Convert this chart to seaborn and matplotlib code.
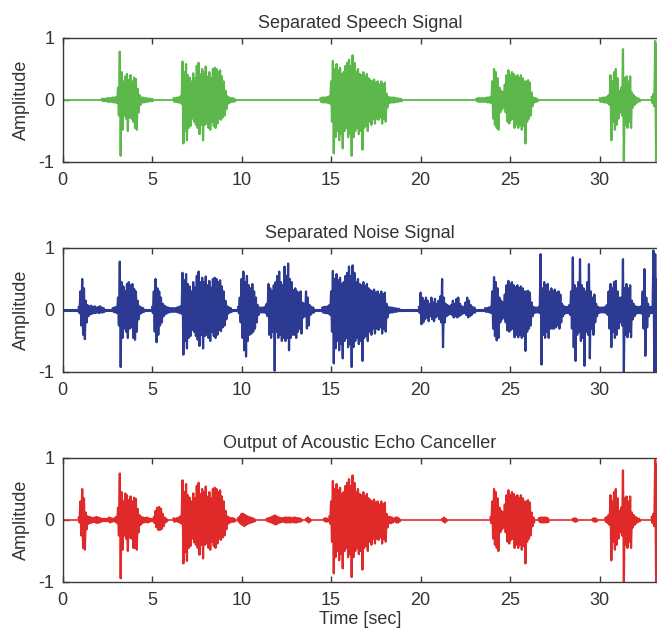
import matplotlib
matplotlib.use("Agg")
import matplotlib.pyplot as plt
import seaborn as sns
import pandas as pd

# ---------------- data (peak envelope samples, 0.1 s apart; (positive, negative)) -------------
sample_step = 0.1
time_max = 33.2
xticks = [0, 5, 10, 15, 20, 25, 30]
yticks = [-1, 0, 1]

titles = ["Separated Speech Signal", "Separated Noise Signal", "Output of Acoustic Echo Canceller"]
colors = ["#5cb84b", "#2c3a92", "#e02a2a"]

speech_starts = [2.2, 6.2, 14.4, 23.1, 30.0, 32.9]
speech_peaks = [
    [(0.02, -0.02), (0.02, -0.02), (0.02, -0.02), (0.03, -0.03), (0.03, -0.03), (0.03, -0.03), (0.04, -0.04), (0.04, -0.04), (0.05, -0.05),
     (0.20, -0.25), (0.78, -0.90), (0.45, -0.48), (0.30, -0.25), (0.38, -0.30), (0.42, -0.50), (0.32, -0.28), (0.40, -0.30), (0.30, -0.35), (0.36, -0.45), (0.34, -0.48), (0.18, -0.20), (0.08, -0.08),
     (0.04, -0.04), (0.04, -0.04), (0.03, -0.03), (0.03, -0.03), (0.02, -0.02), (0.02, -0.02), (0.02, -0.02)],
    [(0.03, -0.03), (0.03, -0.03), (0.04, -0.04), (0.04, -0.04), (0.06, -0.06),
     (0.62, -0.70), (0.45, -0.50), (0.58, -0.65), (0.40, -0.45), (0.36, -0.42), (0.30, -0.30), (0.43, -0.35), (0.35, -0.40), (0.55, -0.45), (0.60, -0.55),
     (0.42, -0.40), (0.50, -0.65), (0.45, -0.40), (0.54, -0.38), (0.38, -0.45), (0.45, -0.48), (0.35, -0.35), (0.50, -0.42), (0.52, -0.45), (0.50, -0.38),
     (0.45, -0.30), (0.48, -0.32), (0.38, -0.28), (0.30, -0.25), (0.15, -0.15),
     (0.06, -0.06), (0.04, -0.04), (0.03, -0.03), (0.03, -0.03), (0.02, -0.02)],
    [(0.03, -0.03), (0.04, -0.04), (0.04, -0.04), (0.04, -0.04), (0.05, -0.05), (0.06, -0.06),
     (0.30, -0.35), (0.63, -0.86), (0.50, -0.60), (0.58, -0.50), (0.48, -0.65), (0.52, -0.55), (0.42, -0.78), (0.45, -0.50), (0.55, -0.45), (0.60, -0.60),
     (0.65, -0.55), (0.55, -0.90), (0.72, -0.60), (0.60, -0.50), (0.45, -0.45), (0.50, -0.55), (0.42, -0.50), (0.40, -0.80), (0.45, -0.45), (0.38, -0.42),
     (0.42, -0.50), (0.35, -0.35), (0.32, -0.40), (0.30, -0.30), (0.33, -0.38), (0.28, -0.30), (0.30, -0.32), (0.25, -0.28), (0.30, -0.38), (0.25, -0.30),
     (0.28, -0.35), (0.10, -0.12), (0.05, -0.05), (0.04, -0.04), (0.04, -0.04), (0.04, -0.04), (0.03, -0.03), (0.03, -0.03), (0.02, -0.02), (0.02, -0.02)],
    [(0.02, -0.02), (0.03, -0.03), (0.03, -0.03), (0.03, -0.03), (0.03, -0.03), (0.03, -0.03), (0.04, -0.04), (0.04, -0.04), (0.05, -0.05),
     (0.30, -0.30), (0.50, -0.40), (0.45, -0.45), (0.35, -0.48), (0.20, -0.20), (0.15, -0.15), (0.12, -0.12), (0.25, -0.20), (0.40, -0.35), (0.48, -0.38),
     (0.40, -0.32), (0.45, -0.30), (0.42, -0.45), (0.38, -0.40), (0.40, -0.45), (0.35, -0.40), (0.40, -0.48), (0.35, -0.42), (0.30, -0.70), (0.30, -0.35),
     (0.32, -0.30), (0.28, -0.25), (0.12, -0.10), (0.04, -0.04), (0.03, -0.03), (0.02, -0.02)],
    [(0.03, -0.03), (0.03, -0.03), (0.04, -0.04), (0.04, -0.04), (0.05, -0.05), (0.08, -0.08),
     (0.40, -0.65), (0.30, -0.35), (0.45, -0.48), (0.50, -0.40), (0.35, -0.30), (0.15, -0.20), (0.20, -0.25), (0.82, -1.00), (0.35, -0.40), (0.38, -0.45), (0.30, -0.35), (0.38, -0.45),
     (0.12, -0.12), (0.08, -0.08), (0.05, -0.05), (0.03, -0.03), (0.02, -0.02)],
    [(0.05, -0.05), (0.10, -0.10), (0.95, -1.00), (0.90, -1.00)],
]

noise_starts = [0.9, 2.8, 5.0, 9.8, 14.5, 19.9, 23.6, 26.5]
noise_peaks = [
    [(0.05, -0.05), (0.30, -0.25), (0.50, -0.40), (0.35, -0.47), (0.15, -0.20), (0.08, -0.10), (0.06, -0.07), (0.07, -0.06), (0.05, -0.05), (0.06, -0.05),
     (0.04, -0.04), (0.05, -0.05), (0.06, -0.04), (0.04, -0.04), (0.03, -0.03)],
    [(0.03, -0.03), (0.04, -0.04), (0.05, -0.05), (0.20, -0.25), (0.78, -0.92), (0.45, -0.45), (0.38, -0.30), (0.30, -0.35), (0.42, -0.45), (0.45, -0.30),
     (0.40, -0.28), (0.42, -0.45), (0.34, -0.48), (0.30, -0.35), (0.15, -0.15), (0.06, -0.06), (0.04, -0.04), (0.03, -0.03)],
    [(0.05, -0.05), (0.30, -0.35), (0.50, -0.52), (0.35, -0.40), (0.30, -0.25), (0.20, -0.20), (0.10, -0.10), (0.07, -0.07), (0.05, -0.05), (0.04, -0.04),
     (0.03, -0.03), (0.03, -0.03), (0.03, -0.03), (0.03, -0.03), (0.04, -0.04), (0.05, -0.05), (0.06, -0.06),
     (0.60, -0.72), (0.48, -0.50), (0.58, -0.62), (0.42, -0.45), (0.38, -0.42), (0.30, -0.32), (0.45, -0.35), (0.36, -0.42), (0.55, -0.48), (0.62, -0.58),
     (0.45, -0.40), (0.52, -0.62), (0.45, -0.42), (0.54, -0.40), (0.40, -0.45), (0.47, -0.50), (0.36, -0.35), (0.50, -0.42), (0.52, -0.45), (0.50, -0.40),
     (0.45, -0.32), (0.48, -0.34), (0.38, -0.28), (0.30, -0.25), (0.15, -0.15),
     (0.06, -0.06), (0.04, -0.04), (0.03, -0.03)],
    [(0.05, -0.05), (0.20, -0.20), (0.50, -0.45), (0.62, -0.65), (0.45, -0.75), (0.55, -0.50), (0.40, -0.40), (0.35, -0.38), (0.42, -0.35), (0.30, -0.30), (0.20, -0.20), (0.08, -0.08),
     (0.04, -0.04), (0.04, -0.04), (0.04, -0.04), (0.05, -0.05), (0.10, -0.10),
     (0.42, -0.40), (0.35, -0.45), (0.30, -0.35), (0.40, -0.98), (0.45, -0.35), (0.55, -0.45), (0.62, -0.40), (0.45, -0.50), (0.40, -0.45), (0.70, -0.50),
     (0.55, -0.45), (0.75, -0.65), (0.50, -0.45), (0.45, -0.40), (0.32, -0.40), (0.35, -0.45), (0.30, -0.35), (0.28, -0.30), (0.30, -0.38), (0.12, -0.12),
     (0.10, -0.10), (0.30, -0.30), (0.20, -0.25), (0.08, -0.08), (0.05, -0.05), (0.04, -0.04)],
    [(0.04, -0.04), (0.05, -0.05), (0.05, -0.05), (0.06, -0.06), (0.08, -0.08),
     (0.30, -0.35), (0.63, -0.86), (0.50, -0.62), (0.58, -0.50), (0.48, -0.65), (0.52, -0.55), (0.42, -0.78), (0.45, -0.50), (0.55, -0.45), (0.60, -0.60),
     (0.70, -0.55), (0.55, -0.92), (0.72, -0.60), (0.60, -0.50), (0.45, -0.45), (0.50, -0.55), (0.42, -0.50), (0.40, -0.82), (0.45, -0.45), (0.38, -0.42),
     (0.42, -0.50), (0.35, -0.35), (0.32, -0.40), (0.30, -0.30), (0.33, -0.38), (0.28, -0.30), (0.30, -0.32), (0.25, -0.28), (0.30, -0.38), (0.25, -0.30),
     (0.28, -0.35), (0.10, -0.12), (0.05, -0.05), (0.04, -0.04), (0.04, -0.04), (0.03, -0.03), (0.03, -0.03), (0.02, -0.02), (0.02, -0.02)],
    [(0.05, -0.05), (0.28, -0.23), (0.20, -0.20), (0.15, -0.15), (0.20, -0.12), (0.15, -0.18), (0.10, -0.10), (0.20, -0.15), (0.12, -0.18), (0.18, -0.12), (0.10, -0.10),
     (0.15, -0.15), (0.22, -0.20), (0.50, -0.60), (0.20, -0.20), (0.10, -0.10), (0.08, -0.08), (0.06, -0.06), (0.08, -0.08), (0.15, -0.12), (0.10, -0.10),
     (0.18, -0.12), (0.20, -0.10), (0.10, -0.08), (0.06, -0.06), (0.05, -0.05), (0.12, -0.08), (0.20, -0.12), (0.15, -0.10), (0.08, -0.08), (0.05, -0.05), (0.04, -0.04)],
    [(0.03, -0.03), (0.03, -0.03), (0.04, -0.04), (0.05, -0.05),
     (0.30, -0.30), (0.53, -0.42), (0.45, -0.49), (0.35, -0.45), (0.20, -0.20), (0.15, -0.15), (0.12, -0.12), (0.25, -0.20), (0.40, -0.33), (0.47, -0.35),
     (0.42, -0.32), (0.45, -0.30), (0.40, -0.44), (0.37, -0.40), (0.40, -0.44), (0.35, -0.40), (0.38, -0.45), (0.35, -0.42), (0.30, -0.66), (0.30, -0.35),
     (0.31, -0.30), (0.28, -0.25), (0.12, -0.10), (0.05, -0.05), (0.04, -0.04)],
    [(0.04, -0.04), (0.05, -0.05), (0.90, -0.88), (0.35, -0.40), (0.45, -0.45), (0.40, -0.35), (0.42, -0.45), (0.30, -0.30), (0.35, -0.30), (0.30, -0.30),
     (0.33, -0.28), (0.28, -0.25), (0.30, -0.30), (0.25, -0.20), (0.10, -0.10), (0.06, -0.06), (0.05, -0.05), (0.05, -0.05), (0.08, -0.08), (0.30, -0.30),
     (0.85, -0.60), (0.40, -0.82), (0.35, -0.40), (0.45, -0.35), (0.82, -0.50), (0.40, -0.45), (0.35, -0.90), (0.30, -0.35), (0.45, -0.40), (0.74, -0.78),
     (0.30, -0.30), (0.20, -0.40), (0.25, -0.20), (0.10, -0.10), (0.05, -0.05), (0.04, -0.04), (0.04, -0.04), (0.04, -0.04), (0.05, -0.05), (0.08, -0.08),
     (0.30, -0.30), (0.42, -0.60), (0.35, -0.35), (0.45, -0.45), (0.47, -0.40), (0.30, -0.30), (0.20, -0.20), (0.20, -0.25), (0.82, -1.00), (0.35, -0.40),
     (0.42, -0.44), (0.35, -0.35), (0.40, -0.44), (0.15, -0.15), (0.10, -0.10), (0.06, -0.06), (0.05, -0.05), (0.05, -0.05), (0.06, -0.06), (0.30, -0.30),
     (0.66, -0.74), (0.20, -0.28), (0.10, -0.10), (0.05, -0.05), (0.05, -0.05), (0.96, -1.00), (0.90, -1.00), (0.50, -0.60)],
]

aec_starts = [0.9, 2.9, 5.1, 6.2, 9.8, 11.4, 13.6, 14.6, 14.9, 21.2, 23.9, 26.6, 28.5, 29.6, 30.3, 32.9]
aec_peaks = [
    [(0.04, -0.04), (0.30, -0.25), (0.50, -0.45), (0.35, -0.48), (0.12, -0.15), (0.06, -0.06), (0.05, -0.05), (0.04, -0.04), (0.03, -0.03), (0.04, -0.04),
     (0.05, -0.05), (0.04, -0.04), (0.03, -0.03), (0.02, -0.02), (0.02, -0.02), (0.02, -0.02), (0.02, -0.02), (0.04, -0.04), (0.03, -0.03), (0.02, -0.02)],
    [(0.03, -0.03), (0.05, -0.05), (0.20, -0.25), (0.75, -0.94), (0.45, -0.48), (0.30, -0.25), (0.43, -0.30), (0.40, -0.50), (0.32, -0.28), (0.38, -0.30),
     (0.30, -0.45), (0.36, -0.45), (0.34, -0.48), (0.18, -0.20), (0.08, -0.08), (0.05, -0.05), (0.04, -0.04), (0.03, -0.03), (0.04, -0.04), (0.03, -0.03),
     (0.02, -0.02), (0.02, -0.02)],
    [(0.05, -0.05), (0.15, -0.12), (0.20, -0.16), (0.21, -0.16), (0.18, -0.14), (0.10, -0.10), (0.04, -0.04), (0.02, -0.02)],
    [(0.03, -0.03), (0.02, -0.02), (0.03, -0.03), (0.04, -0.04), (0.06, -0.06),
     (0.64, -0.70), (0.45, -0.52), (0.58, -0.66), (0.40, -0.45), (0.36, -0.42), (0.30, -0.30), (0.43, -0.36), (0.35, -0.40), (0.55, -0.45), (0.60, -0.56),
     (0.42, -0.40), (0.50, -0.62), (0.45, -0.40), (0.54, -0.38), (0.38, -0.45), (0.45, -0.48), (0.35, -0.35), (0.50, -0.42), (0.52, -0.45), (0.50, -0.38),
     (0.45, -0.30), (0.48, -0.32), (0.38, -0.28), (0.30, -0.25), (0.15, -0.15),
     (0.06, -0.06), (0.04, -0.04), (0.03, -0.03), (0.03, -0.03), (0.02, -0.02)],
    [(0.03, -0.03), (0.06, -0.06), (0.10, -0.08), (0.10, -0.10), (0.08, -0.08), (0.06, -0.06), (0.05, -0.05), (0.04, -0.04), (0.03, -0.03), (0.02, -0.02)],
    [(0.02, -0.02), (0.03, -0.03), (0.04, -0.04), (0.05, -0.05), (0.07, -0.07), (0.07, -0.07), (0.05, -0.05), (0.04, -0.04), (0.03, -0.03), (0.03, -0.03),
     (0.04, -0.04), (0.04, -0.04), (0.04, -0.04), (0.04, -0.04), (0.03, -0.03), (0.04, -0.04), (0.04, -0.04), (0.03, -0.03), (0.03, -0.03), (0.02, -0.02)],
    [(0.02, -0.02), (0.04, -0.04), (0.02, -0.02)],
    [(0.02, -0.02), (0.03, -0.03), (0.02, -0.02)],
    [(0.06, -0.06),
     (0.30, -0.35), (0.63, -0.86), (0.50, -0.60), (0.58, -0.50), (0.48, -0.65), (0.52, -0.55), (0.42, -0.78), (0.45, -0.50), (0.55, -0.45), (0.60, -0.60),
     (0.66, -0.55), (0.55, -0.92), (0.72, -0.60), (0.60, -0.50), (0.45, -0.45), (0.50, -0.55), (0.42, -0.50), (0.40, -0.80), (0.45, -0.45), (0.38, -0.42),
     (0.42, -0.50), (0.35, -0.35), (0.32, -0.40), (0.30, -0.30), (0.33, -0.38), (0.28, -0.30), (0.30, -0.32), (0.25, -0.28), (0.30, -0.38), (0.25, -0.30),
     (0.28, -0.35), (0.10, -0.12), (0.05, -0.05), (0.05, -0.05), (0.04, -0.04), (0.02, -0.02), (0.04, -0.04), (0.04, -0.04), (0.02, -0.02)],
    [(0.02, -0.02), (0.04, -0.04), (0.02, -0.02)],
    [(0.05, -0.05), (0.30, -0.30), (0.50, -0.40), (0.45, -0.45), (0.35, -0.50), (0.20, -0.20), (0.15, -0.15), (0.12, -0.12), (0.25, -0.20), (0.40, -0.35), (0.48, -0.38),
     (0.40, -0.32), (0.45, -0.30), (0.42, -0.45), (0.38, -0.40), (0.40, -0.45), (0.35, -0.40), (0.40, -0.48), (0.35, -0.42), (0.30, -0.70), (0.30, -0.35),
     (0.32, -0.30), (0.28, -0.25), (0.12, -0.10), (0.04, -0.04)],
    [(0.03, -0.03), (0.04, -0.04), (0.04, -0.04), (0.04, -0.04), (0.04, -0.04), (0.03, -0.03)],
    [(0.02, -0.02), (0.03, -0.03), (0.02, -0.02)],
    [(0.02, -0.02), (0.03, -0.03), (0.02, -0.02)],
    [(0.03, -0.03), (0.05, -0.05), (0.08, -0.08),
     (0.40, -0.65), (0.30, -0.35), (0.45, -0.48), (0.50, -0.40), (0.35, -0.30), (0.15, -0.20), (0.20, -0.25), (0.80, -1.00), (0.35, -0.40), (0.38, -0.45),
     (0.30, -0.35), (0.38, -0.45),
     (0.12, -0.12), (0.08, -0.08), (0.05, -0.05), (0.03, -0.03), (0.02, -0.02)],
    [(0.05, -0.05), (0.10, -0.10), (0.97, -1.00), (0.90, -1.00)],
]

panels = [(speech_starts, speech_peaks), (noise_starts, noise_peaks), (aec_starts, aec_peaks)]
baseline_widths = [1.3, 2.2, 1.2]


def to_frame(starts, peaks):
    rows = []
    for b, (t0, seq) in enumerate(zip(starts, peaks)):
        for i, (hi, lo) in enumerate(seq):
            t = t0 + i * sample_step
            rows.append((b, t, hi))
            rows.append((b, t + sample_step / 2, lo))
    return pd.DataFrame(rows, columns=["burst", "t", "amp"])


# ---------------- figure -------------
sns.set_theme(style="white")
plt.rcParams["font.family"] = ["Liberation Sans", "DejaVu Sans"]
text_color = "#333333"
spine_color = "#3a3a3a"

fig = plt.figure(figsize=(6.57, 6.35), dpi=100)
W, H = 657, 635
left_px = 62.5
tops_px = [38, 248, 458]
h_px = 124

for k, (ax_top, (starts, peaks)) in enumerate(zip(tops_px, panels)):
    ax = fig.add_axes([left_px / W, (H - ax_top - h_px) / H, 1 - left_px / W, h_px / H])
    ax.set_facecolor("white")
    ax.axhline(0, color=colors[k], lw=baseline_widths[k], zorder=2)
    df = to_frame(starts, peaks)
    sns.lineplot(data=df, x="t", y="amp", units="burst", estimator=None, sort=False,
                 color=colors[k], linewidth=1.6, ax=ax, legend=False, zorder=3)
    ax.set_xlim(0, time_max)
    ax.set_ylim(-1, 1)
    ax.set_xticks(xticks)
    ax.set_yticks(yticks)
    ax.set_xticklabels([str(v) for v in xticks])
    ax.set_yticklabels([str(v) for v in yticks])
    ax.tick_params(axis="both", direction="in", length=4, width=1.0, color=spine_color,
                   labelsize=13, labelcolor=text_color)
    ax.tick_params(axis="x", top=True, bottom=True, pad=7)
    ax.tick_params(axis="y", left=True, right=False, pad=6)
    for side in ["top", "bottom", "left"]:
        ax.spines[side].set_color(spine_color)
        ax.spines[side].set_linewidth(1.0)
        ax.spines[side].set_visible(True)
    ax.spines["right"].set_visible(False)
    ax.set_title(titles[k], fontsize=13, color=text_color, pad=7)
    ax.set_ylabel("Amplitude", fontsize=13, color=text_color, labelpad=6)
    if k == 2:
        ax.set_xlabel("Time [sec]", fontsize=13, color=text_color, labelpad=2)
    else:
        ax.set_xlabel("")

fig.savefig("out.png", dpi=100)
